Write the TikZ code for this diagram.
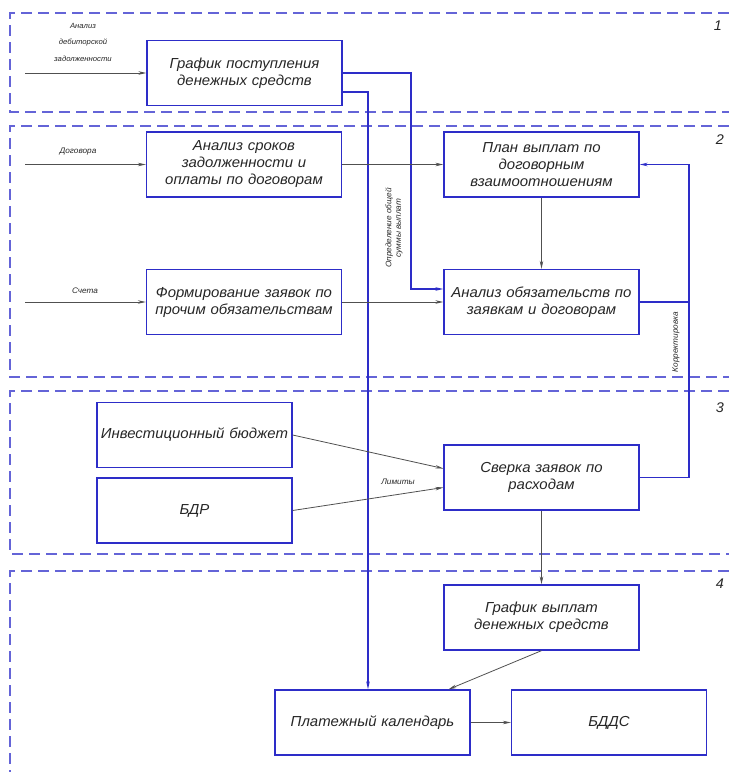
\documentclass[tikz,border=0pt]{standalone}
\usepackage{fontspec}
\setmainfont{Liberation Sans}[FakeStretch=1.03]
\usetikzlibrary{calc,arrows.meta}
\definecolor{boxblue}{RGB}{45,45,200}
\definecolor{zoneblue}{RGB}{100,100,215}
\definecolor{linegray}{RGB}{80,80,80}

\begin{document}
\begin{tikzpicture}[x=1pt,y=-1pt,
  >={Stealth[length=8pt,width=3.5pt]},
  blok/.style={draw=boxblue, line width=1.3pt, minimum width=195pt, minimum height=65pt,
    text width=190pt, align=center, inner sep=1pt, text=black!85, font=\itshape\fontsize{14.5}{17}\selectfont},
  zone/.style={draw=zoneblue, dash pattern=on 11pt off 6pt, line width=1.4pt},
  feed/.style={->, draw=linegray, line width=0.8pt},
  route/.style={draw=boxblue, line width=1.1pt},
  tag/.style={text=black!85, font=\itshape\fontsize{8}{9.5}\selectfont},
  zonenum/.style={text=black!85, font=\itshape\fontsize{14}{14}\selectfont}]
\useasboundingbox (0,0) rectangle (729,772);
% zones
\draw[zone] (729,13) -- (10,13) -- (10,112) -- (729,112);
\draw[zone] (729,126) -- (10,126) -- (10,377) -- (729,377);
\draw[zone] (729,391) -- (10,391) -- (10,554) -- (729,554);
\draw[zone] (729,571) -- (10,571) -- (10,772);
\node[zonenum] (z1) at (718,26) {1};
\node[zonenum] (z2) at (720,140) {2};
\node[zonenum] (z3) at (720,408) {3};
\node[zonenum] (z4) at (720,584) {4};
% blocks
\node[blok] (grafpost) at (244.5,73) {График поступления\\денежных средств};
\node[blok] (analizsrok) at (244,164.5) {Анализ сроков\\задолженности и\\оплаты по договорам};
\node[blok] (formzayav) at (244,302) {Формирование заявок по\\прочим обязательствам};
\node[blok] (planvypl) at (541.5,164.5) {План выплат по\\договорным\\взаимоотношениям};
\node[blok] (analizobyaz) at (541.5,302) {Анализ обязательств по\\заявкам и договорам};
\node[blok] (invest) at (194.5,435) {Инвестиционный бюджет};
\node[blok] (bdr) at (194.5,510.5) {БДР};
\node[blok] (sverka) at (541.5,477.5) {Сверка заявок по\\расходам};
\node[blok] (grafvypl) at (541.5,617.5) {График выплат\\денежных средств};
\node[blok] (platkal) at (372.5,722.5) {Платежный календарь};
\node[blok] (bdds) at (609,722.5) {БДДС};
% inputs
\coordinate (inpost) at (25,73);
\draw[feed] (inpost) -- (grafpost.west);
\node[tag, align=center, font=\itshape\fontsize{7.5}{16.5}\selectfont] (debit) at (83,42) {Анализ\\дебиторской\\задолженности};
\coordinate (indog) at (25,164.5);
\draw[feed] (indog) -- (analizsrok.west);
\node[tag] (dogov) at (78,152) {Договора};
\coordinate (insch) at (25,302);
\draw[feed] (insch) -- (formzayav.west);
\node[tag] (scheta) at (85,291) {Счета};
% routes from the receipts schedule
\coordinate (r1) at (411,289);
\draw[route,->] (grafpost.east) -| (r1) -- (r1 -| analizobyaz.west);
\coordinate (r2) at (368,92);
\draw[route,->] (r2 -| grafpost.east) -- (r2) -- (r2 |- platkal.north);
\node[tag, rotate=90, align=center] (obsum) at (394,228) {Определение общей\\суммы выплат};
% zone 2 links
\draw[feed] (analizsrok.east) -- (planvypl.west);
\draw[feed] (formzayav.east) -- (analizobyaz.west);
\draw[feed] (planvypl.south) -- (analizobyaz.north);
% correction loop
\coordinate (r3) at (689,477.5);
\draw[route,->] (sverka.east) -- (r3) |- (planvypl.east);
\draw[route] (analizobyaz.east) -- (analizobyaz.east -| r3);
\node[tag, rotate=90] (korr) at (676,342) {Корректировка};
% zone 3 links
\draw[feed] (invest.east) -- ([yshift=9pt]sverka.west);
\draw[feed] (bdr.east) -- ([yshift=-10pt]sverka.west);
\node[tag] (limity) at (398,482) {Лимиты};
% zone 4 links
\draw[feed] (sverka.south) -- (grafvypl.north);
\draw[feed] (grafvypl.south) -- ([xshift=76pt]platkal.north);
\draw[feed] (platkal.east) -- (bdds.west);
\end{tikzpicture}
\end{document}
